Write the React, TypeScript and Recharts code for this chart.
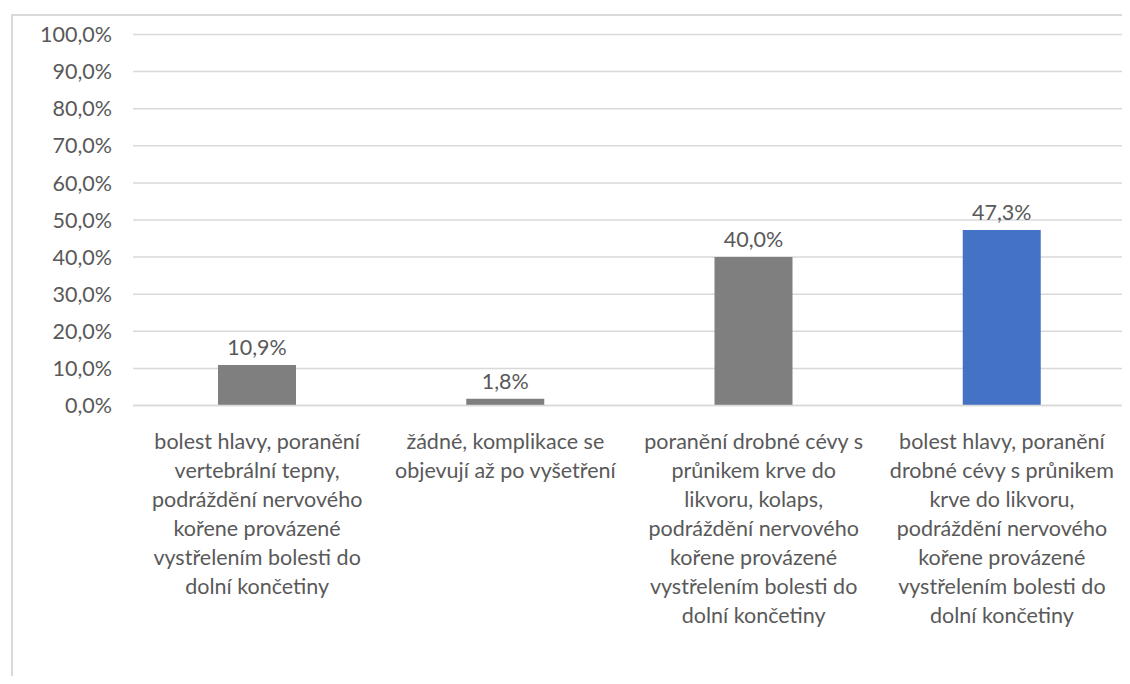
import React from "react";
import { BarChart, Bar, XAxis, YAxis, CartesianGrid, Cell, LabelList } from "recharts";

const categories = [
  "bolest hlavy, poranění vertebrální tepny, podráždění nervového kořene provázené vystřelením bolesti do dolní končetiny",
  "žádné, komplikace se objevují až po vyšetření",
  "poranění drobné cévy s průnikem krve do likvoru, kolaps, podráždění nervového kořene provázené vystřelením bolesti do dolní končetiny",
  "bolest hlavy, poranění drobné cévy s průnikem krve do likvoru, podráždění nervového kořene provázené vystřelením bolesti do dolní končetiny",
];
const categoryLines = [
  ["bolest hlavy, poranění", "vertebrální tepny,", "podráždění nervového", "kořene provázené", "vystřelením bolesti do", "dolní končetiny"],
  ["žádné, komplikace se", "objevují až po vyšetření"],
  ["poranění drobné cévy s", "průnikem krve do", "likvoru, kolaps,", "podráždění nervového", "kořene provázené", "vystřelením bolesti do", "dolní končetiny"],
  ["bolest hlavy, poranění", "drobné cévy s průnikem", "krve do likvoru,", "podráždění nervového", "kořene provázené", "vystřelením bolesti do", "dolní končetiny"],
];
const values = [10.9, 1.8, 40.0, 47.3];
const barColors = ["#7f7f7f", "#7f7f7f", "#7f7f7f", "#4472c4"];
const yTicks = [0, 10, 20, 30, 40, 50, 60, 70, 80, 90, 100];

const data = categories.map((c, i) => ({ name: c, idx: i, value: values[i] }));

const FONT = "Lato, 'Open Sans', sans-serif";
const TEXT = "#595959";
const FS = 21.5;

const fmt = (v: number) => v.toFixed(1).replace(".", ",") + "%";

const CatTick = (props: any) => {
  const { x, y, payload } = props;
  const lines = categoryLines[payload.index] || [];
  return (
    <g>
      {lines.map((l: string, i: number) => (
        <text
          key={i}
          x={x}
          y={y + 30 + i * 29}
          textAnchor="middle"
          fill={TEXT}
          fontSize={FS}
          fontFamily={FONT}
          dominantBaseline="middle"
        >
          {l}
        </text>
      ))}
    </g>
  );
};

export default function App() {
  return (
    <div style={{ position: "relative", width: 1114, height: 668, background: "#fff" }}>
      <div
        style={{
          position: "absolute",
          left: 3,
          top: 6,
          right: -8,
          bottom: -8,
          borderLeft: "2px solid #d9d9d9",
          borderTop: "2px solid #d9d9d9",
        }}
      />
      <div style={{ position: "absolute", left: 0, top: 0 }}>
        <BarChart
          width={1122}
          height={668}
          data={data}
          margin={{ top: 26.5, right: 4, bottom: 0, left: 0 }}
        >
          <CartesianGrid vertical={false} stroke="#d9d9d9" strokeWidth={1.5} />
          <XAxis
            dataKey="name"
            height={270.5}
            interval={0}
            tickLine={false}
            axisLine={{ stroke: "#d9d9d9", strokeWidth: 1.5 }}
            tick={<CatTick />}
          />
          <YAxis
            width={125}
            domain={[0, 100]}
            ticks={yTicks}
            tickFormatter={fmt}
            axisLine={false}
            tickLine={false}
            tickMargin={15}
            tick={{ fill: TEXT, fontSize: FS, fontFamily: FONT }}
          />
          <Bar dataKey="value" barSize={78} isAnimationActive={false}>
            {data.map((d, i) => (
              <Cell key={i} fill={barColors[i]} />
            ))}
            <LabelList
              dataKey="value"
              position="top"
              offset={10}
              formatter={(v: any) => fmt(Number(v))}
              fill={TEXT}
              fontSize={FS}
              fontFamily={FONT}
            />
          </Bar>
        </BarChart>
      </div>
    </div>
  );
}
